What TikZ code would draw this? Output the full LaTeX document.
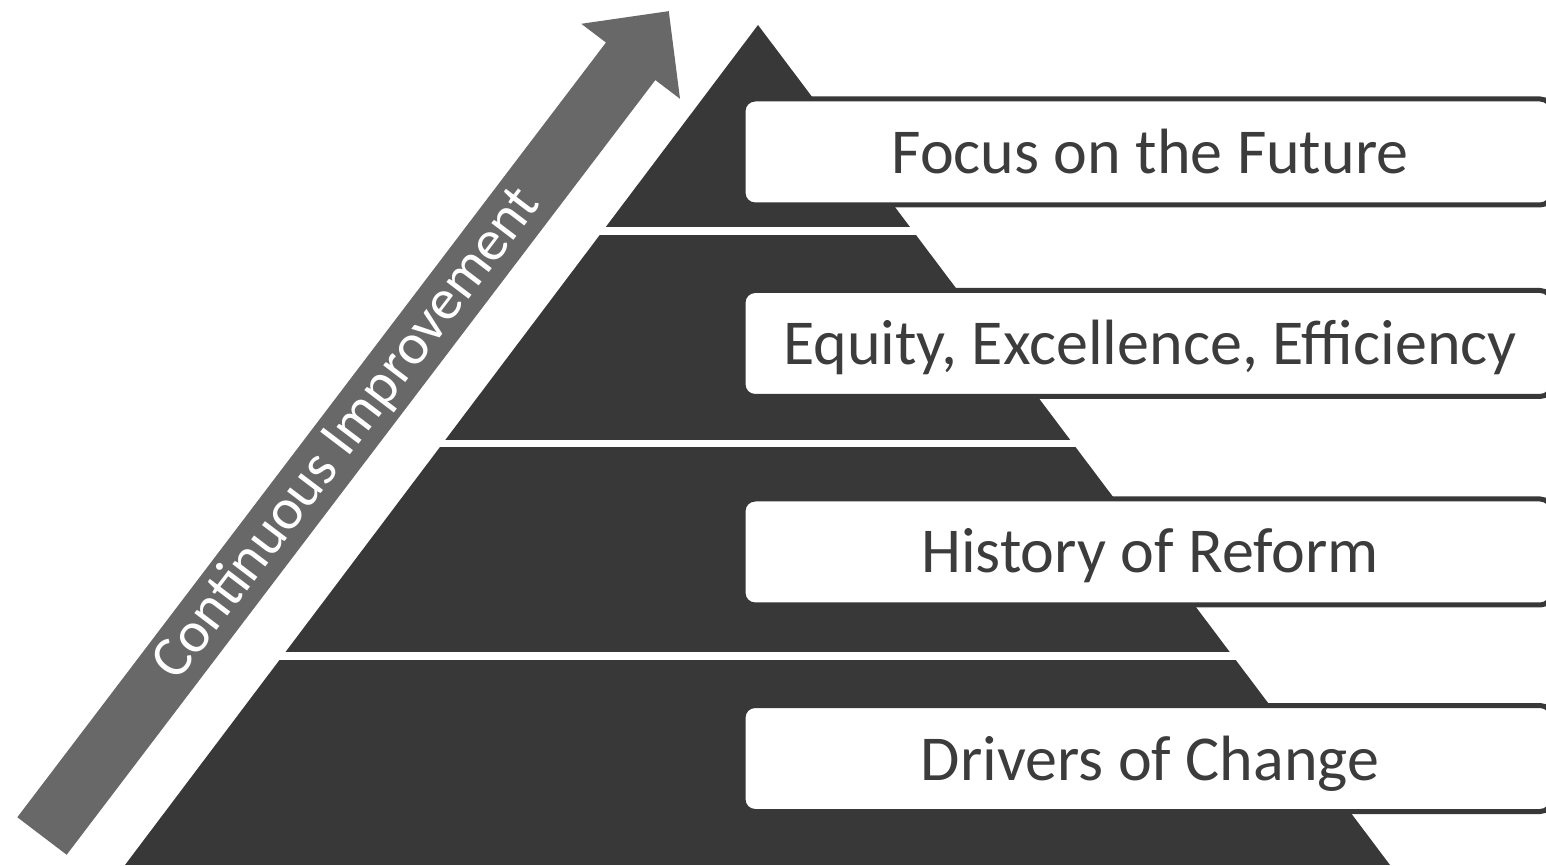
\documentclass[tikz,border=0pt]{standalone}
\usepackage{fontspec}
\setmainfont{Carlito}
\definecolor{pyr}{HTML}{383838}
\definecolor{arr}{HTML}{686868}
\definecolor{txt}{HTML}{3C3C3C}
\begin{document}
\begin{tikzpicture}[x=1pt,y=1pt,
  labelbox/.style={draw=pyr, line width=5pt, fill=white, rounded corners=12pt,
    minimum width=809pt, minimum height=106pt, inner sep=0pt},
  labeltext/.style={text=txt, font=\fontsize{64}{70}\selectfont, anchor=base, inner sep=0pt},
  arrowtext/.style={text=white, font=\fontsize{58}{64}\selectfont, inner sep=0pt, transform shape}]
\useasboundingbox (0,0) rectangle (1546,865);
\clip (0,0) rectangle (1546,865);
% pyramid bands
\begin{scope}
  \clip (125,0) -- (758,840) -- (1390,0) -- cycle;
  \fill[pyr] (0,0) rectangle (1546,205);
  \fill[pyr] (0,213) rectangle (1546,418);
  \fill[pyr] (0,425) rectangle (1546,630);
  \fill[pyr] (0,638) rectangle (1546,845);
\end{scope}
% label boxes
\node[labelbox] (box1) at (1147.5,713) {};
\node[labelbox] (box2) at (1147.5,521.5) {};
\node[labelbox] (box3) at (1147.5,313) {};
\node[labelbox] (box4) at (1147.5,106.5) {};
\node[labeltext] (l1) at (1150,691) {Focus on the Future};
\node[labeltext] (l2) at (1150,500) {Equity, Excellence, Efficiency};
\node[labeltext] (l3) at (1150,292) {History of Reform};
\node[labeltext] (l4) at (1150,85) {Drivers of Change};
% arrow
\begin{scope}[shift={(42,29)}, rotate=52.77]
  \fill[arr] (0,-31) -- (973,-31) -- (973,-62) -- (1036,0) -- (973,62) -- (973,31) -- (0,31) -- cycle;
  \node[arrowtext] (ci) at (505,0) {Continuous Improvement};
\end{scope}
\end{tikzpicture}
\end{document}
